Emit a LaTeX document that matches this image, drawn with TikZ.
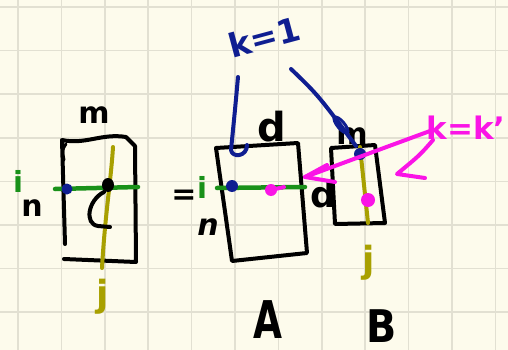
\documentclass[tikz,border=0pt]{standalone}
\usepackage{fontspec}
\setmainfont{DejaVu Sans}
\definecolor{bg}{RGB}{253,251,236}
\definecolor{gridc}{RGB}{226,224,210}
\definecolor{navy}{RGB}{15,30,145}
\definecolor{grn}{RGB}{25,145,25}
\definecolor{olv}{RGB}{168,160,0}
\definecolor{mag}{RGB}{250,20,230}
\newcommand{\fs}[1]{\fontsize{#1}{#1}\selectfont\bfseries}
\tikzset{
  pen/.style={line width=4pt, line cap=round, line join=round},
  lbl/.style={font=\fs{30}, inner sep=0pt, anchor=base},
  gridline/.style={gridc, line width=1.5pt},
}
\begin{document}
\begin{tikzpicture}[x=1pt,y=-1pt]
\fill[bg] (0,0) rectangle (508,350);
\useasboundingbox (0,0) rectangle (508,350);
\foreach \i in {0,...,11} \draw[gridline] (18+43.4*\i,0) -- (18+43.4*\i,350);
\foreach \j in {0,...,7} \draw[gridline] (0,7+43.6*\j) -- (508,7+43.6*\j);

% ---------- left figure ----------
\draw[pen] (65,244) -- (62,140) .. controls (85,145) and (102,133) .. (126,137) -- (135,146) -- (136,262) -- (64,259);
\draw[pen, line width=3pt] (64,160) .. controls (62,150) .. (66,144);
\draw[pen, olv] (102,268) .. controls (105,215) and (111,180) .. (113,147);
\draw[pen, grn, line width=4.5pt] (55,189) -- (138,187);
\fill[navy] (67,189) circle (5.5);
\fill (108,185) ellipse (6 and 7);
\draw[pen] (104,192) .. controls (88,200) and (84,224) .. (98,226) -- (110,227);
\node[lbl] (m1) at (94,124) {m};
\node[lbl, font=\fs{29}, grn] (i1) at (18,192) {i};
\node[lbl] (n1) at (32,216) {n};
\node[lbl, font=\fs{36}, olv] (j1) at (103,306) {j};
\node[font=\fs{30}, inner sep=0pt] (eq) at (184,197) {=};

% ---------- A ----------
\draw[pen] (216,148) -- (232,261) -- (307,253) -- (298,143) -- cycle;
\draw[pen, grn, line width=4.5pt] (217,188) -- (305,187);
\fill[navy] (232,186) circle (6);
\fill[mag] (271,190) circle (6);
\draw[pen, mag] (271,190) -- (284,187);
\node[lbl, font=\fs{40}] (dA) at (272,141) {d};
\node[lbl, font=\fs{29}, grn] (iA) at (202,198) {i};
\node[lbl, font=\fs{30}\itshape] (nA) at (208,235) {n};
\node[lbl, font=\fs{52}] (A) at (268,338) {\scalebox{0.72}[1]{A}};

% ---------- B ----------
\draw[pen] (331,148) -- (335,224) -- (385,223) -- (375,145) -- cycle;
\draw[pen, olv] (360,147) -- (368,223);
\fill[navy] (360,154) circle (6);
\fill[mag] (368,200) circle (7);
\node[lbl] (mB) at (352,144) {m};
\node[lbl, font=\fs{36}] (dB) at (323,207) {d};
\node[lbl, font=\fs{36}, olv] (jB) at (369,272) {j};
\node[lbl, font=\fs{45}] (B) at (382,342) {\scalebox{0.88}[1]{B}};

% ---------- blue annotation ----------
\node[lbl, font=\fs{33}, navy, anchor=center, rotate=15] (k1) at (264,37) {k=1};
\coordinate (cA) at (247,145);
\coordinate (cB) at (356,146);
\draw[pen, navy] (238,77) .. controls (235,110) .. (231,150) .. controls (232,158) and (247,157) .. (cA);
\draw[pen, navy] (291,69) .. controls (318,95) .. (cB);
\draw[navy, line width=3pt, rotate around={-50:(341,125)}] (341,125) ellipse (10 and 3.5);

% ---------- magenta annotation ----------
\node[lbl, font=\fs{31}, mag, anchor=center] (k2) at (466,128) {k=k'};
\coordinate (tipA) at (305,177);
\draw[pen, mag] (430,131) -- (tipA);
\draw[pen, mag] (tipA) -- (327,165);
\draw[pen, mag] (tipA) -- (335,182);
\draw[pen, mag] (433,140) .. controls (420,155) .. (397,174) -- (425,178);
\end{tikzpicture}
\end{document}
